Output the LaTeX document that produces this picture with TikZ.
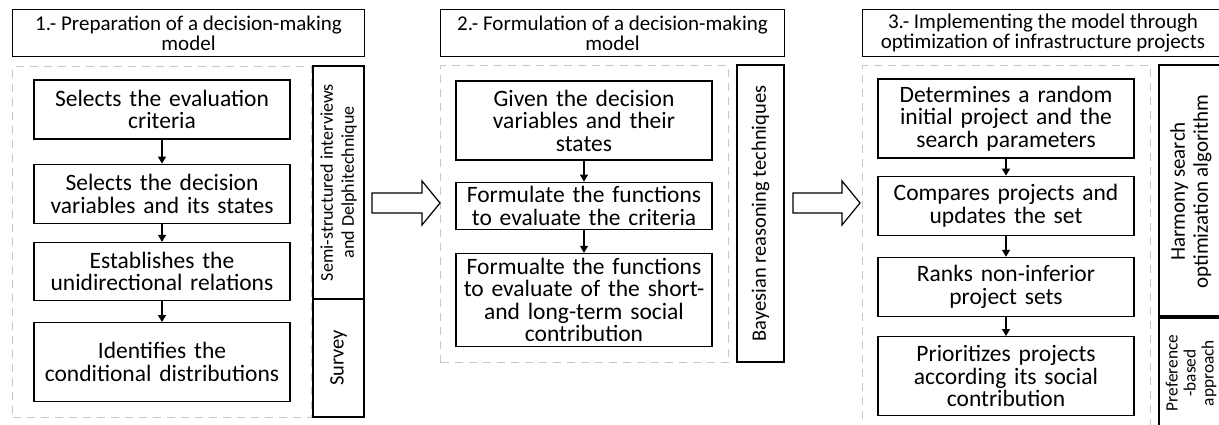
\documentclass[tikz,border=0pt]{standalone}
\usepackage{fontspec}
\setmainfont{Carlito}
\usetikzlibrary{arrows.meta, positioning}

\begin{document}
\begin{tikzpicture}[
    x=1pt, y=-1pt,
    node distance=20pt,
    hdr/.style={draw, line width=1pt, anchor=north west, align=center, inner sep=0pt, minimum height=47pt, font=\fontsize{21}{20}\selectfont},
    panel/.style={draw=black!22, line width=1pt, dash pattern=on 8pt off 6pt, anchor=north west, inner sep=0pt},
    side/.style={draw, line width=1.2pt, rotate=90, inner sep=0pt, align=center, font=\fontsize{18}{21}\selectfont},
    stepbox/.style={draw, line width=1.2pt, text width=256pt, minimum height=59pt, align=center, inner sep=0pt, font=\fontsize{23.5}{22.5}\selectfont},
    arr/.style={-{Triangle[length=7pt,width=8pt]}, line width=1.2pt},
    bigarr/.style={draw, line width=1.2pt, fill=white}
  ]
    \useasboundingbox (0,0) rectangle (1219,424);
    \clip (0,0) rectangle (1219,424);
    % panel 1
    \node[hdr, minimum width=352pt] (t1) at (12,9) {1.- Preparation of a decision-making\\model};
    \node[panel, minimum width=299pt, minimum height=351pt] (p1) at (12,66) {};
    \node[side, minimum width=233pt, minimum height=51pt] (s1) at (338.5,182.5) {Semi-structured interviews\\and Delphitechnique};
    \node[side, minimum width=118pt, minimum height=51pt, font=\fontsize{20.5}{21}\selectfont] (s1b) at (338.5,358) {Survey};
    \node[stepbox] (a1) at (162,109.5) {Selects the evaluation\\criteria};
    \node[stepbox, below=24pt of a1] (a2) {Selects the decision\\variables and its states};
    \node[stepbox, below=18pt of a2, minimum height=58pt] (a3) {Establishes the\\unidirectional relations};
    \node[stepbox, below=21pt of a3, minimum height=79pt] (a4) {Identifies the\\conditional distributions};
    \draw[arr] (a1) -- (a2);
    \draw[arr] (a2) -- (a3);
    \draw[arr] (a3) -- (a4);
    % panel 2
    \node[hdr, minimum width=344pt] (t2) at (440,9) {2.- Formulation of a decision-making\\model};
    \node[panel, minimum width=288pt, minimum height=297pt] (p2) at (440,65) {};
    \node[side, minimum width=297pt, minimum height=47pt, font=\fontsize{20.5}{21}\selectfont] (s2) at (760.5,213.5) {Bayesian reasoning techniques};
    \node[stepbox, minimum height=79pt] (b1) at (584,120.5) {Given the decision\\variables and their\\states};
    \node[stepbox, below=21pt of b1, minimum height=47pt] (b2) {Formulate the functions\\to evaluate the criteria};
    \node[stepbox, below=23pt of b2, minimum height=93pt] (b3) {Formualte the functions\\to evaluate of the short-\\and long-term social\\contribution};
    \draw[arr] (b1) -- (b2);
    \draw[arr] (b2) -- (b3);
    % panel 3
    \node[hdr, minimum width=361pt] (t3) at (862,9) {3.- Implementing the model through\\optimization of infrastructure projects};
    \node[panel, minimum width=288pt, minimum height=367pt] (p3) at (862,65) {};
    \node[side, minimum width=253pt, minimum height=64pt, font=\fontsize{21}{23}\selectfont] (s3) at (1191,191.5) {Harmony search\\optimization algorithm};
    \node[side, minimum width=114pt, minimum height=64pt, font=\fontsize{17.3}{18}\selectfont] (s3b) at (1191,373) {Preference\\-based\\approach};
    \node[stepbox, minimum height=79pt] (c1) at (1006,118.5) {Determines a random\\initial project and the\\search parameters};
    \node[stepbox, below=17pt of c1] (c2) {Compares projects and\\updates the set};
    \node[stepbox, below=21pt of c2] (c3) {Ranks non-inferior\\project sets};
    \node[stepbox, below=19pt of c3, minimum height=79pt] (c4) {Prioritizes projects\\according its social\\contribution};
    \draw[arr] (c1) -- (c2);
    \draw[arr] (c2) -- (c3);
    \draw[arr] (c3) -- (c4);
    % arrows between stages
    \draw[bigarr] (372,193) -- (422,193) -- (422,181) -- (440,203) -- (422,225) -- (422,213) -- (372,213) -- cycle;
    \draw[bigarr] (793,193) -- (842,193) -- (842,181) -- (860,203) -- (842,225) -- (842,213) -- (793,213) -- cycle;
  \end{tikzpicture}
\end{document}
